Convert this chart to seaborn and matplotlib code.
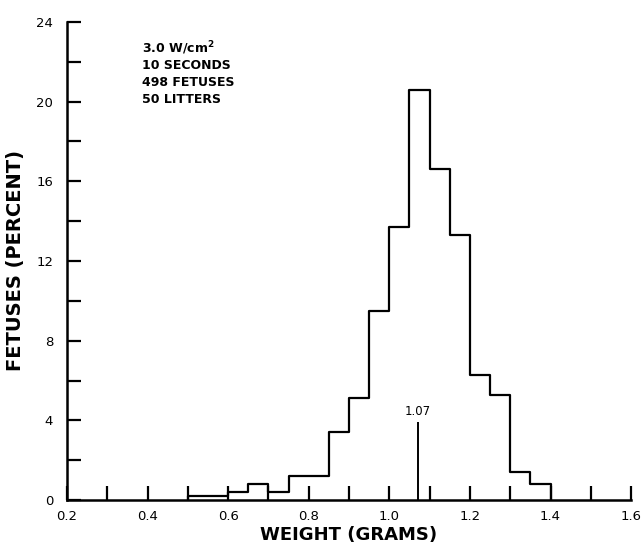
import matplotlib
matplotlib.use("Agg")
import matplotlib.pyplot as plt
from matplotlib.ticker import MultipleLocator
import pandas as pd
import seaborn as sns

# left edge of each 0.05 g weight class and percent of fetuses in it
bin_left = [0.50, 0.55, 0.60, 0.65, 0.70, 0.75, 0.80, 0.85, 0.90,
            0.95, 1.00, 1.05, 1.10, 1.15, 1.20, 1.25, 1.30, 1.35]
percent = [0.2, 0.2, 0.4, 0.8, 0.4, 1.2, 1.2, 3.4, 5.1,
           9.5, 13.7, 20.6, 16.6, 13.3, 6.3, 5.3, 1.4, 0.8]
bin_width = 0.05
mean_weight = 1.07
info_lines = ["3.0 W/cm$^\\mathbf{2}$", "10 SECONDS", "498 FETUSES", "50 LITTERS"]

df = pd.DataFrame({"weight": [b + bin_width / 2 for b in bin_left], "pct": percent})
edges = bin_left + [bin_left[-1] + bin_width]

sns.set_style("ticks")
plt.rcParams["font.family"] = ["DejaVu Sans"]
for key in ["text.color", "axes.labelcolor", "xtick.color", "ytick.color", "axes.edgecolor"]:
    plt.rcParams[key] = "black"

fig = plt.figure(figsize=(6.44, 5.46), dpi=100)
ax = fig.add_axes([0.104, 0.084, 0.876, 0.876])

sns.histplot(data=df, x="weight", weights="pct", bins=edges, element="step",
             fill=False, color="black", linewidth=1.6, ax=ax)
# close the outline at both ends
ax.vlines([edges[0], edges[-1]], 0, [percent[0], percent[-1]], color="black", linewidth=1.6)

# mean marker
ax.vlines(mean_weight, 0, 3.9, color="black", linewidth=1.4)
ax.text(mean_weight, 4.1, "1.07", ha="center", va="bottom", fontsize=8.5)

for i, line in enumerate(info_lines):
    ax.text(0.133, 0.945 - i * 0.036, line, transform=ax.transAxes,
            ha="left", va="center", fontsize=9, fontweight="bold")

ax.set_xlim(0.2, 1.6)
ax.set_ylim(0, 24)
ax.xaxis.set_major_locator(MultipleLocator(0.2))
ax.xaxis.set_minor_locator(MultipleLocator(0.1))
ax.yaxis.set_major_locator(MultipleLocator(4))
ax.yaxis.set_minor_locator(MultipleLocator(2))
ax.set_xticklabels([f"{v:.1f}" for v in ax.get_xticks()])
ax.tick_params(axis="both", which="both", direction="in", length=10,
               width=1.6, labelsize=9.5)
ax.tick_params(axis="x", pad=7)
ax.tick_params(axis="y", pad=10)

for s in ["top", "right"]:
    ax.spines[s].set_visible(False)
for s in ["left", "bottom"]:
    ax.spines[s].set_linewidth(1.8)

ax.set_xlabel("WEIGHT (GRAMS)", fontsize=13, fontweight="bold", labelpad=2)
ax.set_ylabel("FETUSES (PERCENT)", fontsize=14, fontweight="bold", labelpad=8)

fig.savefig("out.png", dpi=100)
